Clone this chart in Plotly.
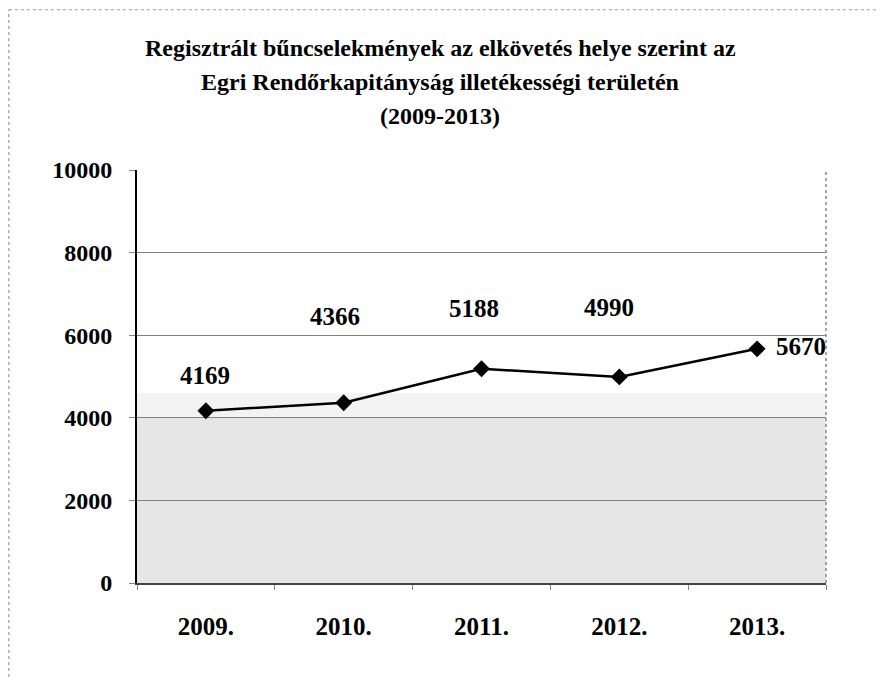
import plotly.graph_objects as go

categories = ["2009.", "2010.", "2011.", "2012.", "2013."]
values = [4169, 4366, 5188, 4990, 5670]
label_texts = ["4169", "4366", "5188", "4990", "5670"]
y_tick_vals = [0, 2000, 4000, 6000, 8000, 10000]
y_tick_text = ["0", "2000", "4000", "6000", "8000", "10000"]
title_lines = [
    "Regisztrált bűncselekmények az elkövetés helye szerint az",
    "Egri Rendőrkapitányság illetékességi területén",
    "(2009-2013)",
]

FONT = "Liberation Serif"
# label offsets (pixels) relative to each point (manually placed labels)
label_dx = [-1, -9, -8, -10, 44]
label_dy = [35, 86, 60, 69, 2]

fig = go.Figure()
fig.add_trace(go.Scatter(
    x=categories, y=values, mode="lines+markers",
    line=dict(color="black", width=2.5),
    marker=dict(symbol="diamond", size=13, color="black"),
    showlegend=False, hoverinfo="x+y",
))

annotations = []
for i, (v, t, dx, dy) in enumerate(zip(values, label_texts, label_dx, label_dy)):
    annotations.append(dict(
        x=i, y=v, xref="x", yref="y", text=t, showarrow=False,
        xshift=dx, yshift=dy,
        font=dict(family=FONT, size=25, color="black", weight="bold"),
    ))

title_y = [1.295, 1.213, 1.131]
for line, yy in zip(title_lines, title_y):
    annotations.append(dict(
        x=0.44, y=yy, xref="paper", yref="paper", text=line, showarrow=False,
        font=dict(family=FONT, size=24, color="black", weight="bold"),
        xanchor="center", yanchor="middle",
    ))

shapes = [
    # stippled background bands
    dict(type="rect", xref="paper", yref="y", x0=0, x1=1, y0=0, y1=4000,
         fillcolor="#e6e6e6", line=dict(width=0), layer="below"),
    dict(type="rect", xref="paper", yref="y", x0=0, x1=1, y0=4000, y1=4600,
         fillcolor="#f3f3f3", line=dict(width=0), layer="below"),
    # right border of plot area
    dict(type="line", xref="paper", yref="paper", x0=1, x1=1, y0=0, y1=1,
         line=dict(color="#888888", width=1.5, dash="dot")),
    # outer chart frame (top and left)
    dict(type="line", xref="paper", yref="paper", x0=-0.186, x1=1.2, y0=1.388, y1=1.388,
         line=dict(color="#999999", width=1.2, dash="dot")),
    dict(type="line", xref="paper", yref="paper", x0=-0.186, x1=-0.186, y0=-0.3, y1=1.388,
         line=dict(color="#999999", width=1.2, dash="dot")),
]

fig.update_layout(
    width=876, height=669,
    margin=dict(l=129, r=58, t=162, b=94),
    paper_bgcolor="white", plot_bgcolor="white",
    annotations=annotations, shapes=shapes,
    font=dict(family=FONT, color="black"),
    xaxis=dict(
        type="category", tickson="boundaries", ticks="outside", ticklen=5,
        tickcolor="#888888", showgrid=False, showline=True, linecolor="#444444",
        linewidth=1.5, range=[-0.5, 4.5],
        tickfont=dict(family=FONT, size=25, color="black", weight="bold"),
        ticklabelstandoff=20,
    ),
    yaxis=dict(
        range=[0, 10000], tickvals=y_tick_vals, ticktext=y_tick_text,
        showgrid=True, gridcolor="#808080", gridwidth=1,
        showline=True, linecolor="black", linewidth=2,
        ticks="outside", ticklen=6, tickcolor="#888888",
        tickfont=dict(family=FONT, size=24, color="black", weight="bold"),
        zeroline=False, ticklabelstandoff=12,
    ),
)

fig.write_html("out.html")
